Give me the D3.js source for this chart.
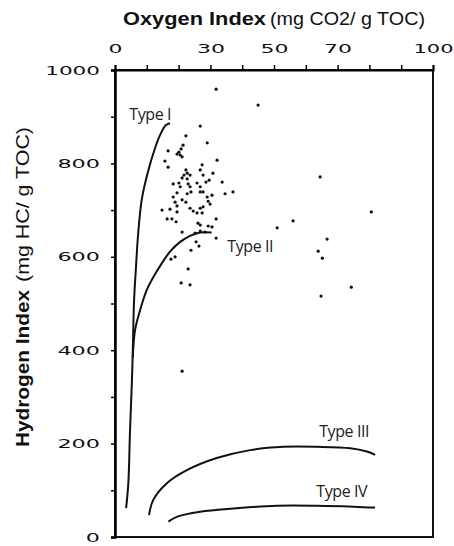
<!DOCTYPE html>
<html>
<head>
<meta charset="utf-8">
<script src="https://cdn.jsdelivr.net/npm/d3@7"></script>
<style>
  body { margin: 0; background: #fff; }
  svg { display: block; }
</style>
</head>
<body>
<div id="container"></div>
<script>
const width = 454,
  height = 546,
  margin = {top: 70, right: 21, bottom: 9, left: 115};

/* DATA */
// scatter samples: oxygen index / hydrogen index
const oxygenIndex = [31.8, 45.0, 26.8, 22.3, 29.0, 21.4, 20.8, 20.1, 16.7, 19.5,
  20.5, 21.1, 32.1, 15.7, 16.7, 27.4, 26.8, 22.3, 22.7, 21.7,
  23.6, 27.7, 30.8, 21.1, 22.7, 18.3, 20.1, 20.5, 25.8, 26.8,
  28.6, 29.6, 33.7, 23.0, 23.6, 19.5, 22.7, 23.9, 26.8, 27.7,
  29.0, 30.5, 34.6, 37.1, 18.3, 18.9, 21.1, 22.3, 19.5, 29.3,
  29.9, 14.8, 17.3, 19.5, 23.6, 24.6, 26.8, 27.7, 25.8, 27.4,
  31.8, 16.4, 17.9, 19.2, 26.1, 26.8, 29.3, 30.5, 21.1, 25.2,
  26.8, 28.3, 31.8, 25.5, 26.4, 23.9, 17.6, 18.9, 23.0, 20.8,
  23.6, 21.1, 80.6, 56.0, 51.0, 66.7, 63.9, 65.2, 74.3, 64.8, 64.5];
const hydrogenIndex = [959, 925, 880, 859, 844, 839, 831, 824, 827, 820,
  818, 814, 807, 805, 792, 797, 786, 786, 779, 775,
  775, 775, 779, 769, 767, 756, 758, 750, 758, 750,
  760, 764, 760, 756, 750, 737, 735, 739, 739, 739,
  728, 732, 735, 739, 728, 717, 722, 717, 709, 719,
  713, 700, 702, 696, 704, 698, 704, 707, 694, 694,
  681, 681, 681, 675, 672, 668, 666, 664, 653, 651,
  655, 653, 640, 632, 623, 614, 595, 600, 574, 544,
  540, 355, 696, 677, 662, 638, 612, 597, 535, 516, 771];

// kerogen type evolution paths
const typeI_OI = [3.5, 4.2, 4.7, 5.3, 5.6, 6.0, 6.6, 7.3, 8.4, 10.1, 12.6, 14.2, 16.0, 17.3];
const typeI_HI = [62, 116, 223, 330, 400, 507, 578, 651, 722, 775, 833, 861, 882, 886];
const typeII_OI = [5.6, 6.3, 7.9, 10.0, 12.1, 14.7, 17.3, 20.5, 23.6, 26.8, 30.4];
const typeII_HI = [385, 443, 486, 529, 557, 586, 611, 632, 645, 652, 652];
const typeIII_OI = [10.7, 12.0, 16.3, 22.6, 32.0, 42.5, 53.0, 63.5, 74.0, 79.2, 81.8];
const typeIII_HI = [47, 79, 115, 143, 169, 186, 193, 193, 190, 183, 176];
const typeIV_OI = [16.8, 19.4, 26.8, 37.2, 50.9, 63.5, 75.0, 81.8];
const typeIV_HI = [33, 43, 54, 61, 67, 67, 65, 63];

const curveNames = ["Type I", "Type II", "Type III", "Type IV"];
const xTickLabels = [0, 30, 50, 70, 100];
const yTickLabels = [0, 200, 400, 600, 800, 1000];

const curves = [
  {name: curveNames[0], ox: typeI_OI, hy: typeI_HI},
  {name: curveNames[1], ox: typeII_OI, hy: typeII_HI},
  {name: curveNames[2], ox: typeIII_OI, hy: typeIII_HI},
  {name: curveNames[3], ox: typeIV_OI, hy: typeIV_HI}
];
const points = oxygenIndex.map((d, i) => ({ox: d, hy: hydrogenIndex[i]}));

const svg = d3.select("#container").append("svg")
  .attr("width", width)
  .attr("height", height)

/* SCALES */
const xScale = d3.scaleLinear()
  .domain([0, 100])
  .range([margin.left, width - margin.right])

const yScale = d3.scaleLinear()
  .domain([0, 1000])
  .range([height - margin.bottom, margin.top])

// frame
svg.append("rect")
  .attr("x", xScale(0))
  .attr("y", yScale(1000))
  .attr("width", xScale(100) - xScale(0))
  .attr("height", yScale(0) - yScale(1000))
  .attr("fill", "none")
  .attr("stroke", "#111")
  .attr("stroke-width", 2)

/* AXES */
// top: ticks every 10, labels only on a few
const xTicks = svg.append("g")
  .attr("transform", `translate(0, ${margin.top})`)
  .call(d3.axisTop(xScale).tickValues(d3.range(0, 101, 10)).tickSize(5).tickFormat(""))
xTicks.select(".domain").attr("stroke-width", 2)
xTicks.selectAll(".tick line").attr("stroke-width", 1.5)

const xLabels = svg.append("g")
  .attr("transform", `translate(0, ${margin.top})`)
  .call(d3.axisTop(xScale).tickValues(xTickLabels).tickSize(0).tickPadding(17))
xLabels.select(".domain").remove()
xLabels.selectAll("text")
  .attr("font-family", "DejaVu Sans")
  .attr("font-size", 13)
  .attr("fill", "#111")
  .attr("textLength", d => String(d).length * 14 - (String(d).includes("1") ? 2 : 0))
  .attr("lengthAdjust", "spacingAndGlyphs")

const yAxis = svg.append("g")
  .attr("transform", `translate(${margin.left}, 0)`)
  .call(d3.axisLeft(yScale)
    .tickValues(d3.range(0, 1001, 100))
    .tickSize(4)
    .tickPadding(11)
    .tickFormat(d => yTickLabels.includes(d) ? d : ""))
yAxis.select(".domain").attr("stroke-width", 2.5)
yAxis.selectAll(".tick line").attr("stroke-width", 1.5)
yAxis.selectAll("text")
  .attr("font-family", "DejaVu Sans")
  .attr("font-size", 13)
  .attr("fill", "#111")
  .attr("textLength", d => yTickLabels.includes(d) ? String(d).length * 14.2 - (String(d).includes("1") ? 2 : 0) : null)
  .attr("lengthAdjust", "spacingAndGlyphs")

/* CURVES */
const line = d3.line()
  .x(d => xScale(d[0]))
  .y(d => yScale(d[1]))
  .curve(d3.curveCatmullRom.alpha(0.5))

svg.selectAll("path.kerogen")
  .data(curves)
  .join("path")
  .attr("class", "kerogen")
  .attr("d", c => line(c.ox.map((v, i) => [v, c.hy[i]])))
  .attr("fill", "none")
  .attr("stroke", "#111")
  .attr("stroke-width", 2)

/* POINTS */
svg.selectAll("circle.sample")
  .data(points)
  .join("circle")
  .attr("class", "sample")
  .attr("cx", d => xScale(d.ox))
  .attr("cy", d => yScale(d.hy))
  .attr("r", 1.6)
  .attr("fill", "#111")

/* CURVE LABELS */
const labelSpots = [[4.5, 893], [35.3, 610], [64.2, 214], [63.3, 86]];
svg.selectAll("text.type")
  .data(curveNames)
  .join("text")
  .attr("class", "type")
  .attr("x", (d, i) => xScale(labelSpots[i][0]))
  .attr("y", (d, i) => yScale(labelSpots[i][1]))
  .attr("font-family", "Open Sans")
  .attr("font-size", 16)
  .attr("letter-spacing", -0.4)
  .attr("fill", "#222")
  .text(d => d)

/* TITLES */
svg.append("text")
  .attr("x", 123)
  .attr("y", 25)
  .attr("font-family", "Liberation Sans")
  .attr("font-weight", "bold")
  .attr("font-size", 18)
  .attr("textLength", 143)
  .attr("lengthAdjust", "spacingAndGlyphs")
  .attr("fill", "#111")
  .text("Oxygen Index")

svg.append("text")
  .attr("x", 270)
  .attr("y", 25)
  .attr("font-family", "Liberation Sans")
  .attr("font-size", 18)
  .attr("textLength", 155)
  .attr("lengthAdjust", "spacingAndGlyphs")
  .attr("fill", "#111")
  .text("(mg CO2/ g TOC)")

svg.append("text")
  .attr("transform", "translate(29, 447) rotate(-90)")
  .attr("font-family", "Liberation Sans")
  .attr("font-weight", "bold")
  .attr("font-size", 18)
  .attr("textLength", 157)
  .attr("lengthAdjust", "spacingAndGlyphs")
  .attr("fill", "#111")
  .text("Hydrogen Index")

svg.append("text")
  .attr("transform", "translate(29, 282) rotate(-90)")
  .attr("font-family", "Liberation Sans")
  .attr("font-size", 18)
  .attr("textLength", 155)
  .attr("lengthAdjust", "spacingAndGlyphs")
  .attr("fill", "#111")
  .text("(mg HC/ g TOC)")
</script>
</body>
</html>
